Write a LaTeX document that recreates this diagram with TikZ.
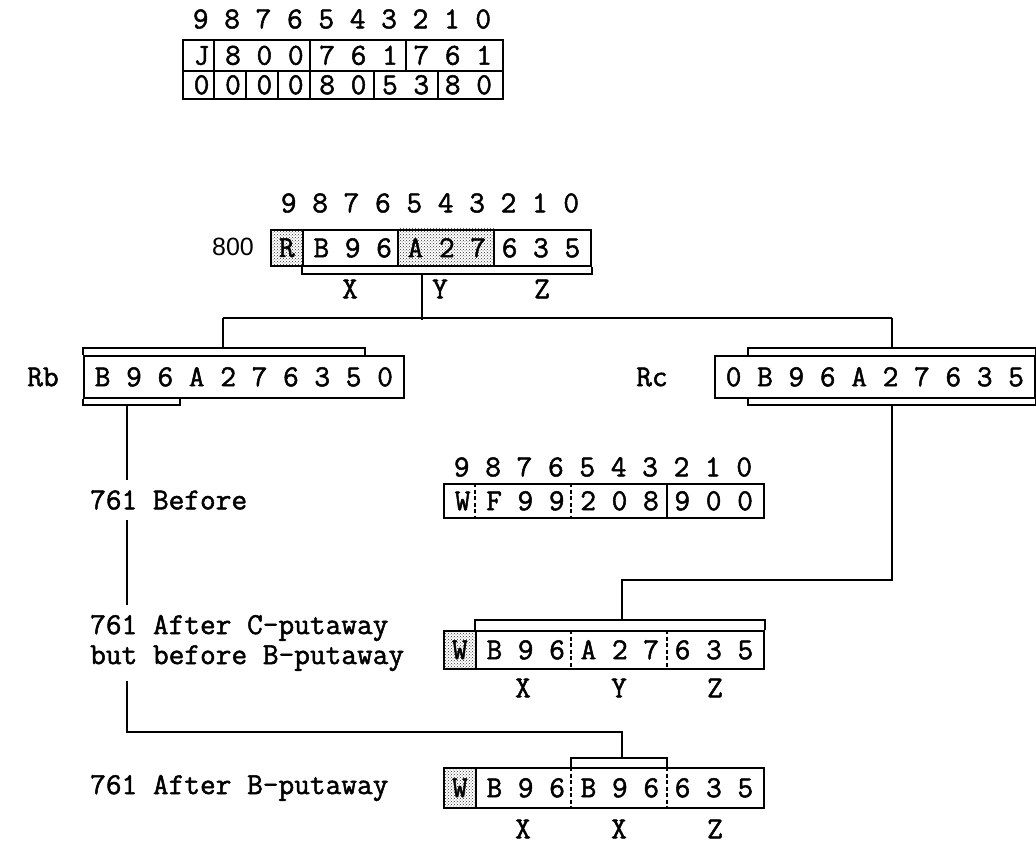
\documentclass[tikz,border=0pt]{standalone}
\usepackage{fontspec}
\usetikzlibrary{patterns,calc,backgrounds}
\newfontfamily\sansfam{Liberation Sans}
\newfontfamily\twfam{Latin Modern Mono}[FakeBold=1.6]
\newcommand\twf{\twfam\fontsize{30.48}{30}\selectfont}
\newcommand\sfnum{\sansfam\fontsize{25}{28}\selectfont}
\begin{document}
\begin{tikzpicture}[x=1pt,y=-1pt,
  wire/.style={line width=1.7pt},
  cell/.style={draw, line width=1.7pt, inner sep=0pt, anchor=north west, font=\twf},
  shade/.style={pattern=crosshatch dots, pattern color=black!80},
  txt/.style={font=\twf, inner sep=0pt},
  lbl/.style={font=\twf, anchor=west, inner xsep=0pt, inner ysep=10pt, align=left},
  dsh/.style={line width=1.4pt, dash pattern=on 4pt off 2.5pt}
]
\useasboundingbox (0,0) rectangle (1036,845);

% ---- top block
\node[txt] (hd1) at (342,19) {9 8 7 6 5 4 3 2 1 0};
\node[cell, minimum width=320pt, minimum height=31pt] (t1) at (182,39) {J 8 0 0 7 6 1 7 6 1};
\node[cell, minimum width=320pt, minimum height=28pt] (t2) at (182,70) {0 0 0 0 8 0 5 3 8 0};
\foreach \d in {32,128,224}
  \draw[wire] ($(t1.north west)+(\d,0)$) -- ($(t1.south west)+(\d,0)$);
\foreach \d in {32,64,96,128,192,256}
  \draw[wire] ($(t2.north west)+(\d,0)$) -- ($(t2.south west)+(\d,0)$);

% ---- 800 block
\node[txt] (hd2) at (430,203) {9 8 7 6 5 4 3 2 1 0};
\node[font=\sfnum, inner sep=0pt] (n800) at (233,247) {800};
\node[cell, shade, minimum width=32pt, minimum height=36pt] (r800) at (270,229) {R};
\node[cell, minimum width=288pt, minimum height=36pt] (m800) at (302,229) {B 9 6 A 2 7 6 3 5};
\begin{scope}[on background layer]
  \path[shade] ($(m800.north west)+(96,0)$) rectangle ($(m800.south west)+(192,0)$);
\end{scope}
\foreach \d in {96,192}
  \draw[wire] ($(m800.north west)+(\d,0)$) -- ($(m800.south west)+(\d,0)$);
\draw[wire] (m800.south west) -- ++(0,7) coordinate (brL) -- (brL -| m800.south east) -- (m800.south east);
\coordinate (s800) at ($(m800.south west)+(120,7)$);
\node[txt] (x1) at (350,289) {X};
\node[txt] (y1) at (440,289) {Y};
\node[txt] (z1) at (542,289) {Z};

% ---- split
\coordinate (hl) at ($(s800)+(0,46)$);
\coordinate (hL) at (223,318);
\coordinate (hR) at (892,318);
\draw[wire] (s800) -- (hl);
\draw[wire] (hL) -- (hR);

% ---- Rb
\node[txt] (rblab) at (43,377) {Rb};
\node[cell, minimum width=320pt, minimum height=42pt] (rb) at (83,355) {B 9 6 A 2 7 6 3 5 0};
\draw[wire] (rb.north west) -- ++(0,-7) coordinate (rbt) -- ++(282,0) -- ++(0,7);
\draw[wire] (hL) -- (hL |- rbt);
\draw[wire] (rb.south west) -- ++(0,6) -- ++(97,0) -- ++(0,-6);
\coordinate (rbd) at ($(rb.south west)+(44,6)$);

% ---- Rc
\node[txt] (rclab) at (652,377) {Rc};
\node[cell, minimum width=320pt, minimum height=42pt] (rc) at (714,355) {0 B 9 6 A 2 7 6 3 5};
\draw[wire] ($(rc.north west)+(34,0)$) -- ++(0,-7) coordinate (rct) -| (rc.north east);
\draw[wire] (hR) -- (hR |- rct);
\draw[wire] ($(rc.south west)+(34,0)$) -- ++(0,6) -| (rc.south east);
\coordinate (rcd) at ($(rc.south west)+(178,6)$);

% ---- 761 before
\node[txt] (hd3) at (603,467) {9 8 7 6 5 4 3 2 1 0};
\node[cell, minimum width=320pt, minimum height=34pt] (wb) at (443,483) {W F 9 9 2 0 8 9 0 0};
\foreach \d in {32,128}
  \draw[dsh] ($(wb.north west)+(\d,0)$) -- ($(wb.south west)+(\d,0)$);
\draw[wire] ($(wb.north west)+(224,0)$) -- ($(wb.south west)+(224,0)$);
\node[lbl] (lb1) at (90,500) {761 Before};

% ---- 761 after C-putaway
\node[lbl] (lb2) at (90,643) {761 After C-putaway\\but before B-putaway};
\node[cell, shade, minimum width=32pt, minimum height=38pt] (wc) at (443,630) {W};
\node[cell, minimum width=288pt, minimum height=38pt] (mc) at (475,630) {B 9 6 A 2 7 6 3 5};
\foreach \d in {96,192}
  \draw[dsh] ($(mc.north west)+(\d,0)$) -- ($(mc.south west)+(\d,0)$);
\draw[wire] (mc.north west) -- ++(0,-10) -| (mc.north east);
\coordinate (cst) at ($(mc.north west)+(147,-10)$);
\draw[wire] (rcd) |- ($(cst)+(0,-40)$) -- (cst);
\node[txt] (x2) at (523,688) {X};
\node[txt] (y2) at (619,688) {Y};
\node[txt] (z2) at (715,688) {Z};

% ---- 761 after B-putaway
\node[lbl] (lb3) at (90,788) {761 After B-putaway};
\node[cell, shade, minimum width=32pt, minimum height=40pt] (wd) at (443,767) {W};
\node[cell, minimum width=288pt, minimum height=40pt] (md) at (475,767) {B 9 6 B 9 6 6 3 5};
\foreach \d in {96,192}
  \draw[dsh] ($(md.north west)+(\d,0)$) -- ($(md.south west)+(\d,0)$);
\draw[wire] ($(md.north west)+(96,0)$) -- ++(0,-9) -| ($(md.north west)+(192,0)$);
\coordinate (dst) at ($(md.north west)+(147,-9)$);
\node[txt] (x3) at (523,829) {X};
\node[txt] (x4) at (619,829) {X};
\node[txt] (z3) at (715,829) {Z};

% ---- left chain
\draw[wire] (rbd) -- (rbd |- lb1.north);
\draw[wire] (rbd |- lb1.south) -- (rbd |- lb2.north);
\draw[wire] (rbd |- lb2.south) |- ($(dst)+(0,-26)$) -- (dst);
\end{tikzpicture}
\end{document}
